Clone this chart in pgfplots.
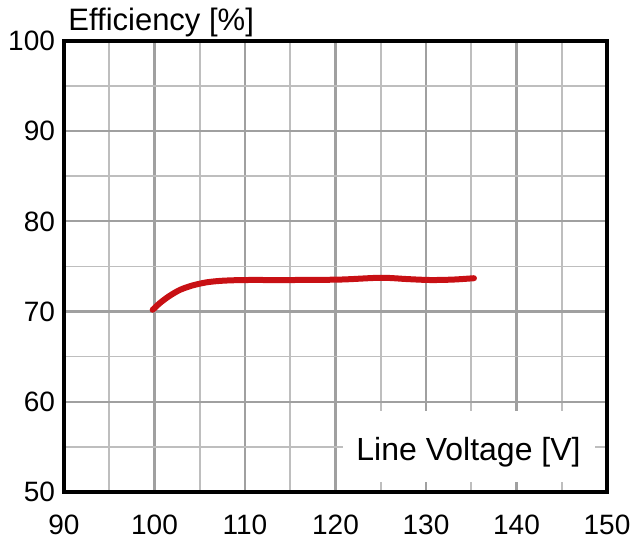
\documentclass[border=0pt]{standalone}
\usepackage{pgfplots}
\pgfplotsset{compat=1.18}
\usepackage{fontspec}
\setmainfont{Liberation Sans}
\definecolor{curvered}{RGB}{200,16,20}
\begin{document}
\begin{tikzpicture}
\begin{axis}[
  scale only axis,
  width=271.5pt, height=225.5pt,
  xmin=90, xmax=150, ymin=50, ymax=100,
  xtick={90,100,...,150}, ytick={50,60,...,100},
  minor xtick={95,105,...,145}, minor ytick={55,65,...,95},
  grid=both,
  major grid style={draw={rgb,255:red,160;green,160;blue,160}, line width=1.1pt},
  minor grid style={draw={rgb,255:red,190;green,190;blue,190}, line width=0.8pt},
  major tick length=0pt, minor tick length=0pt,
  axis line style={line width=2pt, black},
  tick label style={font=\fontsize{14}{16}\selectfont},
  /pgf/number format/assume math mode=true,
  xticklabel style={yshift=-8pt},
  yticklabel style={xshift=-1pt},
  clip=false,
]
\addplot[curvered, line width=3pt, smooth, line cap=round] coordinates {
(99.8,70.2) (100.6,70.95) (101.6,71.7) (102.8,72.4) (104.2,72.9) (105.8,73.25) (107.5,73.42) (110,73.5) (115,73.5) (120.5,73.55) (125,73.75) (128,73.6) (130.5,73.5) (133,73.55) (135.3,73.7)
};
\fill[white] (axis cs:120.8,51.1) rectangle (axis cs:148.7,59.0);
\node[font=\fontsize{16}{19}\selectfont] at (axis cs:134.7,54.4) {Line Voltage [V]};
\node[anchor=base west, font=\fontsize{15.5}{18}\selectfont, inner sep=0pt] at ([xshift=2pt,yshift=5pt]rel axis cs:0,1) {Efficiency [\%]};
\coordinate (bl) at (rel axis cs:0,0);
\coordinate (tr) at (rel axis cs:1,1);
\end{axis}
\pgfresetboundingbox
\path[use as bounding box] ([xshift=-32pt,yshift=-25.5pt]bl) rectangle ([xshift=18pt,yshift=20.5pt]tr);
\end{tikzpicture}
\end{document}
